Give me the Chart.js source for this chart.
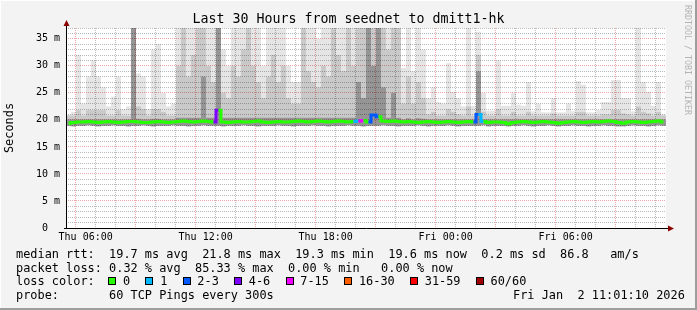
<!DOCTYPE html>
<html>
<head>
<meta charset="utf-8">
<script src="https://cdn.jsdelivr.net/npm/chart.js@4.4.1/dist/chart.umd.min.js"></script>
<style>
  body { margin: 0; background: #f3f3f3; }
  #wrap { position: relative; width: 697px; height: 310px; font-family: 'DejaVu Sans Mono', monospace; color: #000; }
  #wrap canvas { position: absolute; left: 0; top: 0; }
  .txt { position: absolute; white-space: pre; font-size: 11.9px; line-height: 14px; }
  .box { position: absolute; width: 6px; height: 6px; border: 1px solid #000; }
  #title { position: absolute; left: 0; top: 11px; width: 697px; text-align: center; font-size: 13.3px; line-height: 16px; white-space: pre; }
  #credit { position: absolute; left: 683px; top: 5px; writing-mode: vertical-rl; font-size: 8.3px; line-height: 10px; color: #b4b4b4; white-space: pre; }
</style>
</head>
<body>
<div id="wrap">
  <canvas id="chart" width="697" height="310"></canvas>
  <div id="title">Last 30 Hours from seednet to dmitt1-hk</div>
  <div id="credit">RRDTOOL / TOBI OETIKER</div>
</div>
<script>
// 30 hours from Thu 05:01, one slot = 15 minutes
const slotMinutes = 15;
const firstTickMinute = 59; // Thu 06:00
const hourTickLabels = ['Thu 06:00', '', '', '', '', '', 'Thu 12:00', '', '', '', '', '',
    'Thu 18:00', '', '', '', '', '', 'Fri 00:00', '', '', '', '', '', 'Fri 06:00', '', '', '', '', ''];

// median rtt (ms)
const medianRtt = [
    19.4, 19.5, 19.6, 19.6, 19.7, 19.6, 19.5, 19.6, 19.7, 19.6,
    19.5, 19.6, 19.7, 19.7, 19.6, 19.5, 19.5, 19.6, 19.7, 19.6,
    19.5, 19.6, 19.7, 19.8, 19.7, 19.6, 19.7, 19.8, 19.7, 19.6,
    21.8, 19.6, 19.5, 19.6, 19.7, 19.6, 19.6, 19.7, 19.8, 19.6,
    19.5, 19.6, 19.7, 19.6, 19.6, 19.7, 19.8, 19.7, 19.6, 19.7,
    19.8, 19.7, 19.6, 19.7, 19.8, 19.7, 19.6, 19.7, 19.8, 19.9,
    19.6, 20.9, 20.6, 19.8, 19.7, 19.8, 19.7, 19.6, 19.7, 19.6,
    19.5, 19.6, 19.7, 19.6, 19.5, 19.6, 19.7, 19.6, 19.5, 19.6,
    19.7, 19.6, 21.0, 19.7, 19.5, 19.6, 19.6, 19.5, 19.3, 19.5,
    19.6, 19.7, 19.6, 19.5, 19.6, 19.7, 19.6, 19.5, 19.4, 19.5,
    19.6, 19.7, 19.6, 19.5, 19.6, 19.7, 19.6, 19.7, 19.8, 19.7,
    19.5, 19.4, 19.6, 19.7, 19.6, 19.5, 19.6, 19.7, 19.8, 19.6
];

// lost pings out of 60
const lostPings = [
    0, 0, 0, 0, 0, 0, 0, 0, 0, 0,  0, 0, 0, 0, 0, 0, 0, 0, 0, 0,
    0, 0, 0, 0, 0, 0, 0, 0, 0, 0,  4, 0, 0, 0, 0, 0, 0, 0, 0, 0,
    0, 0, 0, 0, 0, 0, 0, 0, 0, 0,  0, 0, 0, 0, 0, 0, 0, 0, 1, 8,
    0, 2, 3, 0, 0, 0, 0, 0, 0, 0,  0, 0, 0, 0, 0, 0, 0, 0, 0, 0,
    0, 0, 2, 1, 0, 0, 0, 0, 0, 0,  0, 0, 0, 0, 0, 0, 0, 0, 0, 0,
    0, 0, 0, 0, 0, 0, 0, 0, 0, 0,  0, 0, 0, 0, 0, 0, 0, 0, 0, 0
];

// smoke: fastest ping, 75th / 90th percentile, slowest ping (ms)
const minRtt = [
    18.9, 18.8, 18.9, 18.9, 19.0, 18.9, 18.8, 18.9, 18.9, 19.0,
    18.9, 18.9, 18.8, 18.9, 18.9, 19.0, 18.9, 18.8, 18.9, 18.9,
    18.9, 19.0, 18.9, 18.9, 18.8, 18.9, 18.9, 19.0, 18.9, 18.9,
    18.9, 18.8, 18.9, 18.9, 18.9, 19.0, 18.9, 18.9, 18.8, 18.9,
    18.9, 18.9, 19.0, 18.9, 18.9, 18.8, 18.9, 18.9, 18.9, 19.0,
    18.9, 18.9, 18.8, 18.9, 18.9, 18.9, 19.0, 18.9, 18.9, 18.8,
    18.9, 18.9, 18.9, 19.0, 18.9, 18.9, 18.8, 18.9, 18.9, 18.9,
    19.0, 18.9, 18.8, 18.9, 18.9, 18.9, 19.0, 18.9, 18.8, 18.9,
    18.9, 18.9, 18.9, 19.0, 18.8, 18.9, 18.9, 18.9, 18.8, 18.9,
    18.9, 19.0, 18.9, 18.8, 18.9, 18.9, 19.0, 18.9, 18.8, 18.9,
    18.9, 19.0, 18.9, 18.9, 18.8, 18.9, 18.9, 19.0, 18.9, 18.9,
    18.8, 18.8, 18.9, 19.0, 18.9, 18.9, 18.8, 18.9, 19.0, 18.9
];
const q3Rtt = [
    20.1, 20.1, 20.1, 20.1, 20.1, 20.1, 20.1, 20.1, 20.1, 20.1,
    20.1, 20.1, 20.1, 37, 20.2, 20.1, 20.1, 20.2, 20.2, 20.1,
    20.1, 20.1, 20.4, 20.4, 20.4, 20.4, 20.4, 28, 20.4, 20.4,
    37, 20.4, 20.4, 20.4, 20.4, 20.4, 20.4, 20.4, 20.4, 20.4,
    20.4, 20.4, 20.4, 20.4, 20.4, 20.4, 20.4, 20.4, 20.4, 20.4,
    20.4, 20.4, 20.4, 20.4, 20.4, 20.4, 20.4, 20.4, 27, 24,
    37, 30, 37, 26, 20.4, 25, 20.4, 20.1, 20.3, 20.1,
    20.3, 20.2, 20.1, 20.1, 20.1, 20.1, 20.1, 20.1, 20.1, 20.1,
    20.1, 20.1, 29, 20.1, 20.1, 20.1, 20.1, 20.1, 20.1, 20.1,
    20.1, 20.1, 20.1, 20.1, 20.1, 20.1, 20.1, 20.1, 20.1, 20.1,
    20.1, 20.1, 20.1, 20.1, 20.1, 20.1, 20.1, 20.1, 20.1, 20.1,
    20.1, 20.1, 20.1, 20.1, 20.1, 20.1, 20.1, 20.1, 20.1, 20.1
];
const upperRtt = [
    20.8, 20.8, 21.8, 20.8, 21.8, 21.8, 21.8, 21.8, 20.8, 20.8,
    21.8, 20.8, 20.8, 37, 22.5, 22, 20.8, 22, 22, 21.5,
    20.8, 20.8, 30, 37, 28, 32, 37, 37, 30, 27,
    37, 25, 24, 30, 28, 33, 37, 30, 27, 24,
    28, 32, 27, 30, 24, 23, 23, 37, 29, 27,
    26, 30, 28, 37, 32, 29, 37, 30, 37, 37,
    37, 37, 37, 37, 33, 37, 37, 23, 28, 23,
    27, 24, 21, 21.5, 20.8, 20.8, 22, 21.5, 21, 20.8,
    22.5, 20.8, 32, 21.5, 20.8, 20.8, 22, 20.8, 20.8, 21.5,
    20.8, 20.8, 21.5, 20.8, 20.8, 20.8, 20.8, 21.2, 20.8, 20.8,
    20.8, 20.8, 21.5, 21.5, 20.8, 20.8, 20.8, 21, 21, 21.8,
    21.8, 21.2, 21, 20.8, 22.5, 21.5, 21.2, 20.8, 21.5, 20.8
];
const maxRtt = [
    21, 21.5, 32, 23, 28, 31, 28, 26, 22.5, 24.3,
    28, 22, 22.5, 37, 28.6, 28, 22, 33, 34, 25,
    22.5, 23, 37, 37, 37, 37, 37, 37, 37, 37,
    37, 33, 30, 37, 37, 37, 37, 37, 37, 30,
    37, 37, 37, 37, 30, 27, 27, 37, 37, 37,
    35, 37, 37, 37, 37, 37, 37, 37, 37, 37,
    37, 37, 37, 37, 37, 37, 37, 29.6, 37, 29,
    37, 33, 24, 26, 23.3, 23, 30.5, 25.2, 24, 22.5,
    37, 22.6, 36.3, 25, 21.7, 21.7, 31, 22.6, 22.6, 25,
    22.8, 22.6, 27, 21.6, 23, 21.4, 21.4, 24, 21.4, 21.4,
    23, 21.6, 27.2, 26.5, 21.4, 21.4, 21.8, 23.3, 23.3, 27.4,
    27.4, 24, 24, 21.6, 37, 27, 25.2, 22.6, 27, 21
];

// legend
const rttStats = ['19.7 ms avg', '21.8 ms max', '19.3 ms min', '19.6 ms now', '0.2 ms sd', '86.8   am/s'];
const lossStats = ['0.32 % avg', '85.33 % max', '0.00 % min', '0.00 % now'];
const lossLegend = ['0', '1', '2-3', '4-6', '7-15', '16-30', '31-59', '60/60'];
const lossLimits = [0, 1, 3, 6, 15, 30, 59, 60];
const probeText = '60 TCP Pings every 300s';
const stampText = 'Fri Jan  2 11:01:10 2026';

const lossColors = ['#26ff00', '#00b8ff', '#0059ff', '#7e00ff', '#f000ff', '#ff5e00', '#ff0000', '#a10000'];
const mono = 'DejaVu Sans Mono';

function lossColor(n) {
    const k = lossLimits.findIndex(l => n <= l);
    return lossColors[k < 0 ? lossColors.length - 1 : k];
}

const xs = medianRtt.map((_, i) => (i + 0.5) * slotMinutes);
const band = (lo, hi) => hi.map((h, i) => ({ x: xs[i], y: [lo[i], h] }));

function smoke(lo, hi, color) {
    return {
        type: 'bar',
        data: band(lo, hi),
        backgroundColor: color,
        borderWidth: 0,
        grouped: false,
        barPercentage: 1,
        categoryPercentage: 1,
        inflateAmount: 0
    };
}

// background, frame, axis arrows
const frame = {
    id: 'frame',
    beforeDraw(chart) {
        const { ctx, chartArea: a, width, height } = chart;
        ctx.save();
        ctx.fillStyle = '#f3f3f3';
        ctx.fillRect(0, 0, width, height);
        ctx.fillStyle = '#ffffff';
        ctx.fillRect(a.left, a.top, a.right - a.left, a.bottom - a.top);
        ctx.fillRect(0, 0, width, 1);
        ctx.fillRect(0, 0, 1, height);
        ctx.fillStyle = '#9e9e9e';
        ctx.fillRect(0, height - 2, width, 2);
        ctx.fillRect(width - 2, 0, 2, height);
        ctx.restore();
    },
    afterDraw(chart) {
        const { ctx, chartArea: a } = chart;
        const x0 = a.left + 0.5, y0 = a.bottom + 0.5;
        ctx.save();
        ctx.strokeStyle = '#000';
        ctx.lineWidth = 1;
        ctx.beginPath();
        ctx.moveTo(x0, y0);
        ctx.lineTo(x0, a.top - 4);
        ctx.moveTo(a.left - 2, y0);
        ctx.lineTo(a.right + 3, y0);
        ctx.stroke();
        ctx.fillStyle = '#8b0000';
        ctx.beginPath();
        ctx.moveTo(x0 - 3, a.top - 2);
        ctx.lineTo(x0 + 3, a.top - 2);
        ctx.lineTo(x0, a.top - 8);
        ctx.closePath();
        ctx.fill();
        ctx.beginPath();
        ctx.moveTo(a.right + 2, y0 - 3);
        ctx.lineTo(a.right + 2, y0 + 3);
        ctx.lineTo(a.right + 8, y0);
        ctx.closePath();
        ctx.fill();
        ctx.restore();
    }
};

const gridGrey = 'rgba(140,140,140,0.6)';
const gridRed = 'rgba(230,110,110,0.6)';

new Chart(document.getElementById('chart'), {
    type: 'bar',
    data: {
        datasets: [
            smoke(minRtt, maxRtt, 'rgba(0,0,0,0.10)'),
            smoke(minRtt, upperRtt, 'rgba(0,0,0,0.12)'),
            smoke(minRtt, q3Rtt, 'rgba(0,0,0,0.26)'),
            {
                type: 'line',
                order: -1,
                data: medianRtt.map((v, i) => ({ x: xs[i], y: v })),
                stepped: 'middle',
                borderColor: lossColor(0),
                borderWidth: 3,
                pointRadius: 0,
                segment: {
                    borderColor: c => lossColor(lostPings[c.p1DataIndex])
                }
            }
        ]
    },
    options: {
        responsive: false,
        animation: false,
        devicePixelRatio: 1,
        layout: { padding: { top: 28, right: 31, bottom: 62, left: 0 } },
        plugins: {
            legend: { display: false },
            tooltip: { enabled: false }
        },
        scales: {
            x: {
                type: 'linear',
                offset: false,
                min: 0,
                max: hourTickLabels.length * 60,
                afterBuildTicks: scale => {
                    scale.ticks = hourTickLabels.map((_, k) => ({ value: firstTickMinute + k * 60 }));
                },
                afterFit: scale => { scale.height = 20; },
                ticks: {
                    autoSkip: false,
                    maxRotation: 0,
                    padding: 3,
                    color: '#000',
                    font: { family: mono, size: 10 },
                    callback: (v, i) => hourTickLabels[i]
                },
                grid: {
                    drawTicks: false,
                    color: c => (c.index % 3 === 0 ? gridRed : gridGrey)
                },
                border: { display: false, dash: [1, 1] }
            },
            y: {
                min: 0,
                max: 37,
                afterFit: scale => { scale.width = 66; },
                ticks: {
                    stepSize: 1,
                    autoSkip: false,
                    padding: 6,
                    color: '#000',
                    font: { family: mono, size: 10 },
                    callback: v => (v % 5 !== 0 ? '' : v === 0 ? '0  ' : v + ' m')
                },
                grid: {
                    drawTicks: false,
                    color: c => (c.tick && c.tick.value % 5 === 0 ? gridRed : gridGrey)
                },
                border: { display: false, dash: [1, 1] },
                title: {
                    display: true,
                    text: 'Seconds',
                    color: '#000',
                    font: { family: mono, size: 11.9 },
                    padding: { top: 3, bottom: 0 }
                }
            }
        }
    },
    plugins: [frame]
});

// legend text below the graph
const wrap = document.getElementById('wrap');
function addText(x, y, text) {
    const d = document.createElement('div');
    d.className = 'txt';
    d.style.left = x + 'px';
    d.style.top = y + 'px';
    d.textContent = text;
    wrap.appendChild(d);
}
addText(16, 247.4, 'median rtt:  ' + rttStats.join('  '));
addText(16, 260.9, 'packet loss: ' + lossStats.slice(0, 3).join('  ') + '   ' + lossStats[3]);
addText(16, 274.4, 'loss color:');
let bx = 108.3;
lossLegend.forEach((label, i) => {
    const b = document.createElement('div');
    b.className = 'box';
    b.style.left = Math.round(bx) + 'px';
    b.style.top = '277px';
    b.style.background = lossColors[i];
    wrap.appendChild(b);
    addText(bx + 14.7, 274.4, label);
    bx += 30 + 7.16 * label.length;
});
addText(16, 287.9, 'probe:       ' + probeText);
addText(513, 287.9, stampText);
</script>
</body>
</html>
